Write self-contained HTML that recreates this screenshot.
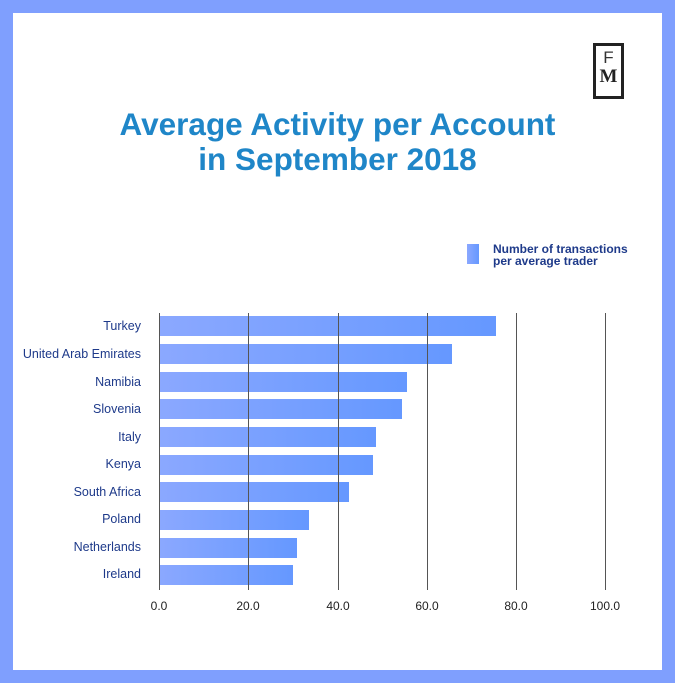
<!DOCTYPE html>
<html><head><style>
body{margin:0;width:675px;height:683px;background:#7f9ffe;position:relative;overflow:hidden;font-family:"Liberation Sans",sans-serif}
.in{position:absolute;left:13px;top:13px;width:649px;height:657px;background:#fff}
.t{position:absolute;left:0;width:675px;text-align:center;color:#1f86c8;font-weight:bold;font-size:31.5px;line-height:35px;top:107px}
.logo{position:absolute;left:593px;top:43px;width:31px;height:56px;border:3px solid #222;box-sizing:border-box;text-align:center}
.g{position:absolute;top:313px;height:277px;width:1px;background:#555}
.b{position:absolute;left:159px;height:20px;background:linear-gradient(90deg,#8ba8ff,#6598ff)}
.l{position:absolute;right:534px;font-size:12.5px;color:#1e3a8a;text-align:right;white-space:nowrap}
.x{position:absolute;top:599px;font-size:12px;color:#222;width:40px;margin-left:-20px;text-align:center}
</style></head><body>
<div class="in"></div>
<div class="logo"><div style="font-size:17px;color:#333;line-height:18px;margin-top:3px">F</div><div style="font-family:'Liberation Serif',serif;font-weight:bold;font-size:19px;line-height:20px;color:#222">M</div></div>
<div class="t">Average Activity per Account<br>in September 2018</div>
<div style="position:absolute;left:467px;top:244px;width:12px;height:20px;background:linear-gradient(90deg,#8ba8ff,#6598ff)"></div>
<div style="position:absolute;left:493px;top:243px;font-size:12px;font-weight:bold;color:#1e3a8a;line-height:12px">Number of transactions<br>per average trader</div>
<div class="b" style="top:316px;width:337px"></div>
<div class="b" style="top:344px;width:293px"></div>
<div class="b" style="top:372px;width:248px"></div>
<div class="b" style="top:399px;width:243px"></div>
<div class="b" style="top:427px;width:217px"></div>
<div class="b" style="top:455px;width:214px"></div>
<div class="b" style="top:482px;width:190px"></div>
<div class="b" style="top:510px;width:150px"></div>
<div class="b" style="top:538px;width:138px"></div>
<div class="b" style="top:565px;width:134px"></div>
<div class="g" style="left:159px"></div>
<div class="g" style="left:248px"></div>
<div class="g" style="left:338px"></div>
<div class="g" style="left:427px"></div>
<div class="g" style="left:516px"></div>
<div class="g" style="left:605px"></div>
<div class="l" style="top:319px">Turkey</div>
<div class="l" style="top:347px">United Arab Emirates</div>
<div class="l" style="top:375px">Namibia</div>
<div class="l" style="top:402px">Slovenia</div>
<div class="l" style="top:430px">Italy</div>
<div class="l" style="top:457px">Kenya</div>
<div class="l" style="top:485px">South Africa</div>
<div class="l" style="top:512px">Poland</div>
<div class="l" style="top:540px">Netherlands</div>
<div class="l" style="top:567px">Ireland</div>
<div class="x" style="left:159px">0.0</div>
<div class="x" style="left:248px">20.0</div>
<div class="x" style="left:338px">40.0</div>
<div class="x" style="left:427px">60.0</div>
<div class="x" style="left:516px">80.0</div>
<div class="x" style="left:605px">100.0</div>
</body></html>
